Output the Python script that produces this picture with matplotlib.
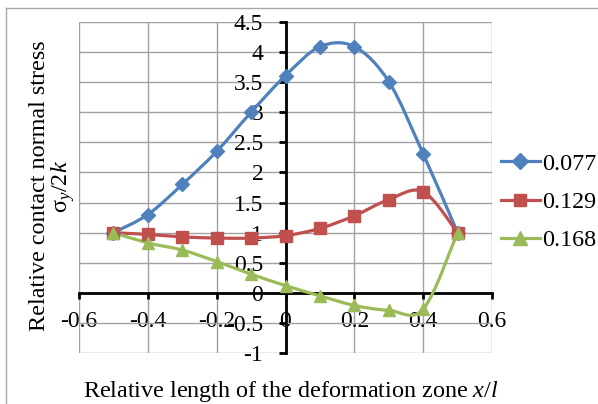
import numpy as np
import matplotlib
matplotlib.use("Agg")
import matplotlib.pyplot as plt
from matplotlib.path import Path
from matplotlib.patches import PathPatch
from matplotlib.lines import Line2D

plt.rcParams['font.family'] = ['Liberation Serif', 'DejaVu Serif']
plt.rcParams['mathtext.fontset'] = 'custom'
plt.rcParams['mathtext.rm'] = 'Liberation Serif'
plt.rcParams['mathtext.it'] = 'Liberation Serif:italic'
plt.rcParams['axes.unicode_minus'] = False

# ---- data ----
x_vals = [-0.5, -0.4, -0.3, -0.2, -0.1, 0.0, 0.1, 0.2, 0.3, 0.4, 0.5]
s_077 = [1.0, 1.30, 1.80, 2.35, 3.00, 3.61, 4.09, 4.09, 3.51, 2.31, 1.0]
s_129 = [1.0, 0.97, 0.93, 0.91, 0.91, 0.95, 1.07, 1.28, 1.55, 1.68, 1.0]
s_168 = [1.0, 0.83, 0.71, 0.52, 0.31, 0.12, -0.05, -0.21, -0.29, -0.27, 1.0]
series_labels = ["0.077", "0.129", "0.168"]
x_ticks = [-0.6, -0.4, -0.2, 0, 0.2, 0.4, 0.6]
x_ticklabels = ["-0.6", "-0.4", "-0.2", "0", "0.2", "0.4", "0.6"]
y_ticks = [-1, -0.5, 0, 0.5, 1, 1.5, 2, 2.5, 3, 3.5, 4, 4.5]
y_ticklabels = ["-1", "-0.5", "0", "0.5", "1", "1.5", "2", "2.5", "3", "3.5", "4", "4.5"]

colors = ["#4F81BD", "#C0504D", "#9BBB59"]
markers = ["D", "s", "^"]
msizes = [7, 8, 9]
FS = 17
FSL = 17.4

W, H = 598, 404
fig = plt.figure(figsize=(W / 100, H / 100), dpi=100)
ax = fig.add_axes([79 / W, 1 - 353 / H, (492 - 79) / W, (353 - 22) / H])


def smooth_path(xs, ys):
    pts = np.column_stack([xs, ys]).astype(float)
    n = len(pts)
    verts = [pts[0]]
    codes = [Path.MOVETO]
    for i in range(n - 1):
        p0 = pts[i - 1] if i > 0 else pts[i]
        p1 = pts[i]
        p2 = pts[i + 1]
        p3 = pts[i + 2] if i + 2 < n else pts[i + 1]
        c1 = p1 + (p2 - p0) / 6.0
        c2 = p2 - (p3 - p1) / 6.0
        verts += [c1, c2, p2]
        codes += [Path.CURVE4] * 3
    return Path(verts, codes)


all_series = [s_077, s_129, s_168]
handles = []
for ys, c, m, ms, lab in zip(all_series, colors, markers, msizes, series_labels):
    patch = PathPatch(smooth_path(x_vals, ys), facecolor='none', edgecolor=c,
                      lw=2.3, zorder=3, capstyle='round', joinstyle='round')
    ax.add_patch(patch)
    ax.plot(x_vals, ys, linestyle='none', marker=m, color=c, ms=ms, zorder=4,
            markeredgecolor=c)
    handles.append(Line2D([], [], color=c, lw=2.3, marker=m, ms=ms + 1, label=lab))

ax.set_xlim(-0.6, 0.6)
ax.set_ylim(-1, 4.5)
ax.set_xticks(x_ticks)
ax.set_xticklabels(x_ticklabels)
ax.set_yticks(y_ticks)
ax.set_yticklabels(y_ticklabels)
ax.grid(True, color='#a0a0a0', lw=1.0, zorder=0)
ax.set_axisbelow(True)

ax.spines['left'].set_position(('data', 0))
ax.spines['bottom'].set_position(('data', 0))
ax.spines['top'].set_visible(False)
ax.spines['right'].set_visible(False)
for sp in ['left', 'bottom']:
    ax.spines[sp].set_linewidth(2.0)
    ax.spines[sp].set_color('black')
    ax.spines[sp].set_zorder(2)

ax.tick_params(axis='y', direction='out', length=5, width=2, pad=11, labelsize=FS)
ax.tick_params(axis='x', direction='out', length=4, width=2, pad=9, labelsize=FS)

# axis titles
fig.text(40 / W, 1 - 186 / H, "Relative contact normal stress", rotation=90,
         ha='center', va='center', fontsize=FSL)
fig.text(63 / W, 1 - 186 / H, r"$\mathrm{\sigma}_y/2k$", rotation=90,
         ha='center', va='center', fontsize=FSL)
fig.text(291 / W, 1 - 391 / H, "Relative length of the deformation zone $x/l$",
         ha='center', va='center', fontsize=FSL)

# legend
leg = fig.legend(handles=handles, loc='center left',
                 bbox_to_anchor=(501 / W, 1 - 202 / H), frameon=False,
                 fontsize=FSL, handlelength=1.6, handletextpad=0.1,
                 labelspacing=0.68, borderaxespad=0, borderpad=0)

# chart border (top and left visible)
fig.add_artist(Line2D([6 / W, 1], [1 - 8 / H, 1 - 8 / H], color='#a6a6a6', lw=1.0,
                      transform=fig.transFigure))
fig.add_artist(Line2D([6 / W, 6 / W], [0, 1 - 8 / H], color='#a6a6a6', lw=1.0,
                      transform=fig.transFigure))

fig.savefig("out.png", dpi=100)
